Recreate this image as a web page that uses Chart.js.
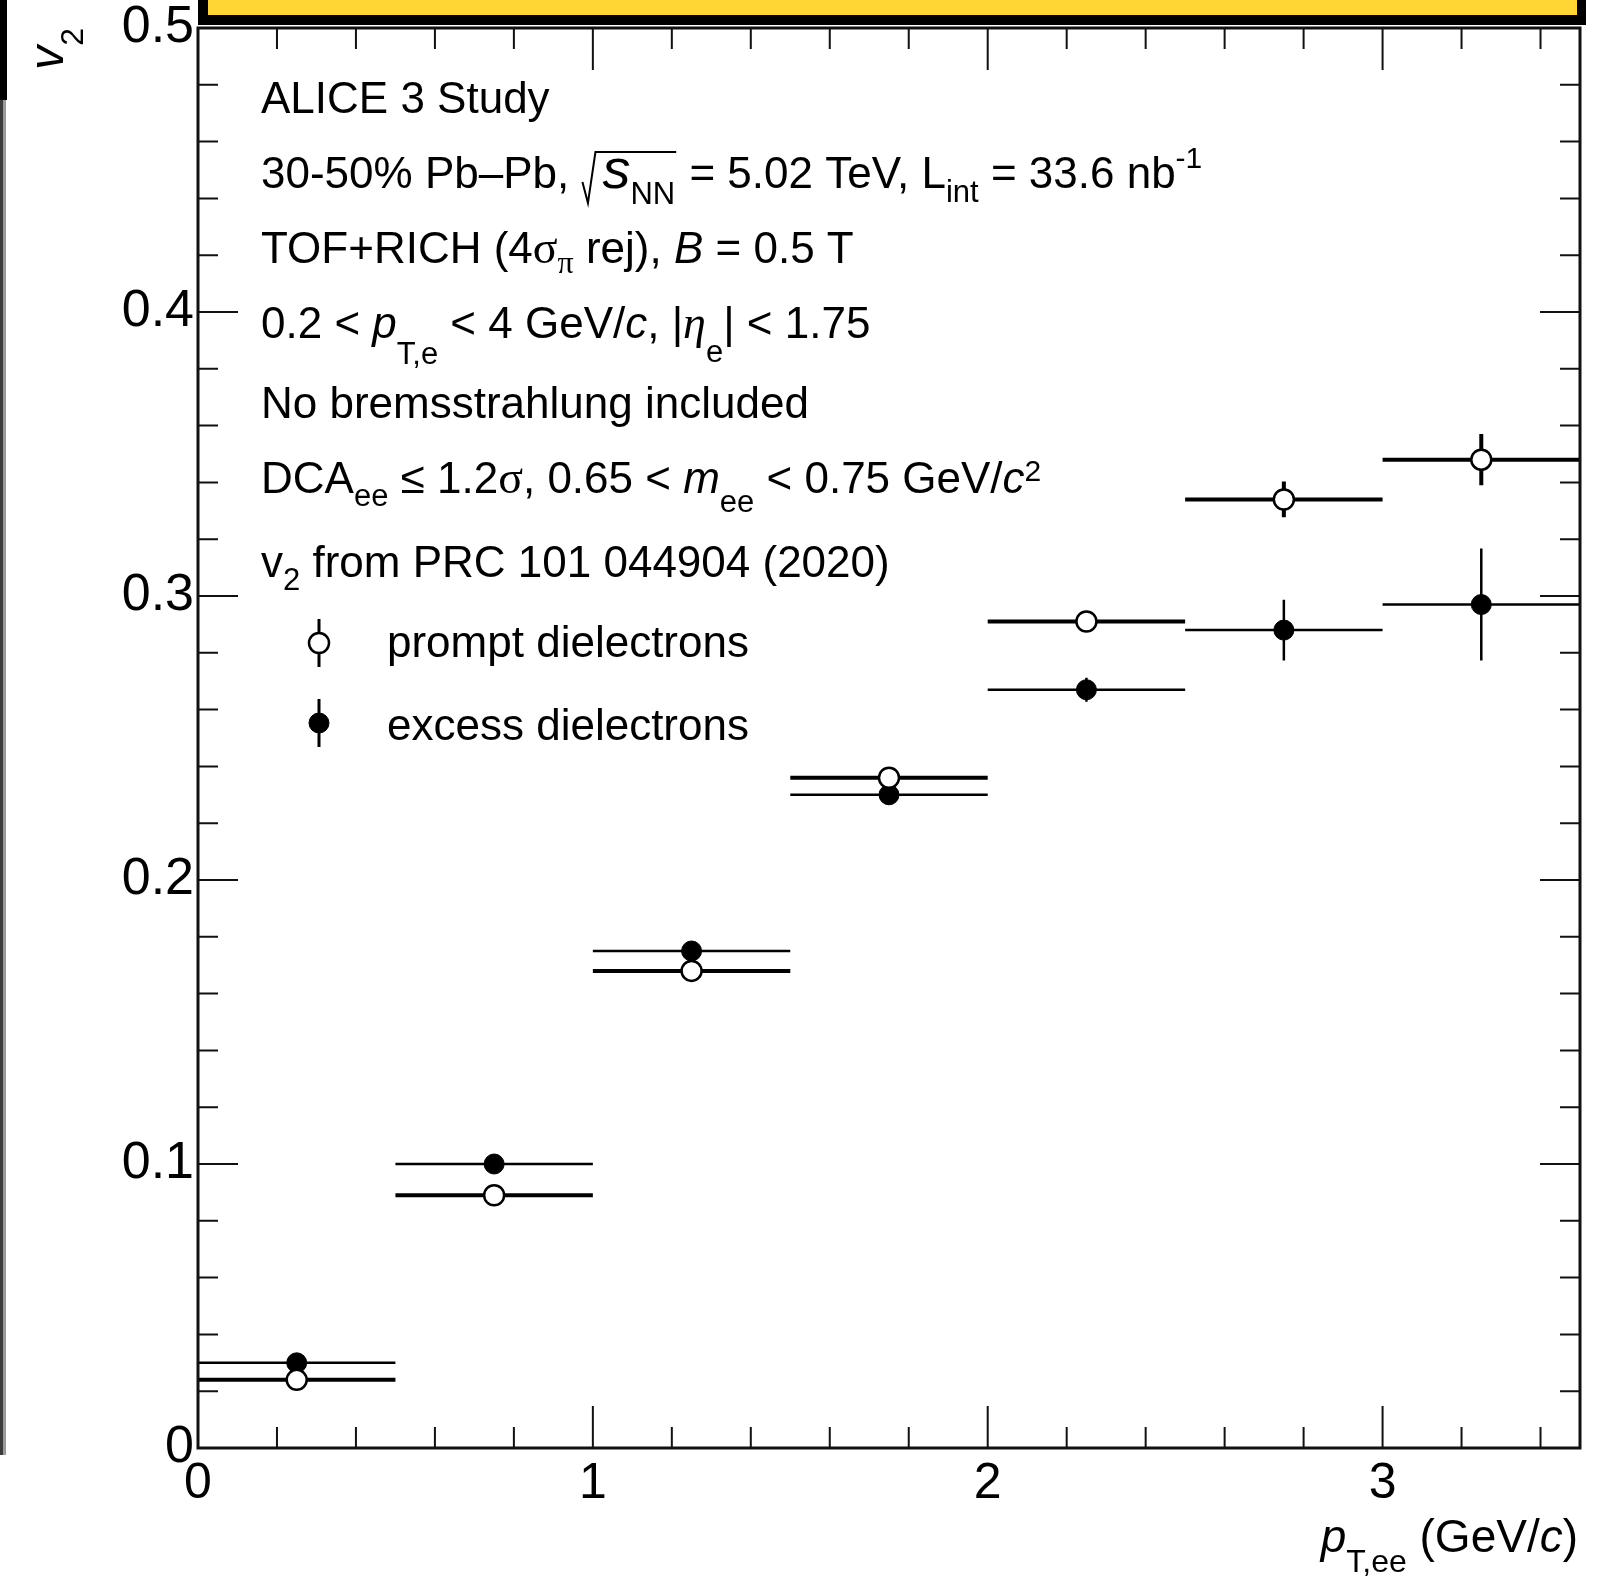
<!DOCTYPE html>
<html lang="en">
<head>
  <meta charset="UTF-8">
  <title>v2 of dielectrons vs pT,ee</title>
  <script src="https://cdn.jsdelivr.net/npm/chart.js"></script>
  <style>
    body {
      margin: 0;
      padding: 0;
      background: #fff;
    }
    #wrap {
      position: relative;
      width: 1598px;
      height: 1576px;
    }
  </style>
</head>
<body>
  <div id="wrap"><canvas id="graph"></canvas></div>

  <script>
    // pT,ee bins (GeV/c)
    const binCenters = [0.25, 0.75, 1.25, 1.75, 2.25, 2.75, 3.25];
    const binHalfWidth = [0.25, 0.25, 0.25, 0.25, 0.25, 0.25, 0.25];

    // v2 values and their errors
    const promptV2 = [0.024, 0.089, 0.168, 0.236, 0.291, 0.334, 0.348];
    const promptErr = [0.002, 0.002, 0.002, 0.002, 0.002, 0.0063, 0.009];
    const excessV2 = [0.030, 0.100, 0.175, 0.230, 0.267, 0.288, 0.297];
    const excessErr = [0.002, 0.002, 0.002, 0.002, 0.0042, 0.0107, 0.0197];

    const xTickValues = [0, 1, 2, 3];
    const xTickLabels = ['0', '1', '2', '3'];
    const yTickValues = [0, 0.1, 0.2, 0.3, 0.4, 0.5];
    const yTickLabels = ['0', '0.1', '0.2', '0.3', '0.4', '0.5'];

    // text runs: [text, kind, dy]
    const infoLines = [
      [['ALICE 3 Study']],
      [['30-50% Pb\u2013Pb, '], ['', 'rad', [['s', 'big'], ['NN', 'sub', 16]]], [' = 5.02 TeV, L'], ['int', 'sub', 14], [' = 33.6 nb'], ['-1', 'sup', -20]],
      [['TOF+RICH (4'], ['\u03c3', 'g'], ['\u03c0', 'gsub', 10], [' rej), '], ['B', 'i'], [' = 0.5 T']],
      [['0.2 < '], ['p', 'i'], ['T,e', 'sub', 26], [' < 4 GeV/'], ['c', 'i'], [', |'], ['\u03b7', 'gi'], ['e', 'sub', 24], ['| < 1.75']],
      [['No bremsstrahlung included']],
      [['DCA'], ['ee', 'sub', 13], [' \u2264 1.2'], ['\u03c3', 'g'], [', 0.65 < '], ['m', 'i'], ['ee', 'sub', 19], [' < 0.75 GeV/'], ['c', 'i'], ['2', 'sup', -12]],
      [['v'], ['2', 'sub', 13], [' from PRC 101 044904 (2020)']]
    ];
    const xTitle = [['p', 'ai'], ['T,ee', 'asub', 20], [' (GeV/', 'a'], ['c', 'ai'], [')', 'a']];
    const yTitle = [['v', 'vt'], ['2', 'asub', 20]];

    const SANS = '"Liberation Sans", Arial, Helvetica, sans-serif';
    const SERIF = '"Liberation Serif", "Times New Roman", serif';
    const FS = 44;

    const KINDS = {
      n:    { font: FS + 'px ' + SANS, dy: 0 },
      i:    { font: 'italic ' + FS + 'px ' + SANS, dy: 0 },
      a:    { font: '46px ' + SANS, dy: 0 },
      ai:   { font: 'italic 46px ' + SANS, dy: 0 },
      asub: { font: '32px ' + SANS, dy: 15 },
      vt:   { font: 'italic 48px ' + SANS, dy: 0 },
      big:  { font: 'italic 56px ' + SANS, dy: 0 },
      g:    { font: '46px ' + SERIF, dy: 0 },
      gi:   { font: 'italic 46px ' + SERIF, dy: 0 },
      sub:  { font: '31px ' + SANS, dy: 15 },
      gsub: { font: '32px ' + SERIF, dy: 10 },
      sup:  { font: '30px ' + SANS, dy: -18 }
    };

    function segWidth(ctx, seg) {
      const kind = seg[1] || 'n';
      if (kind === 'rad') return 21 + runWidth(ctx, seg[2]) + 2;
      ctx.font = KINDS[kind].font;
      return ctx.measureText(seg[0]).width;
    }

    function runWidth(ctx, segs) {
      return segs.reduce((w, s) => w + segWidth(ctx, s), 0);
    }

    function drawRun(ctx, x, y, segs) {
      for (const seg of segs) {
        const kind = seg[1] || 'n';
        if (kind === 'rad') {
          const w = runWidth(ctx, seg[2]);
          ctx.save();
          ctx.lineWidth = 2;
          ctx.strokeStyle = '#000';
          ctx.beginPath();
          ctx.moveTo(x + 1, y - 6);
          ctx.lineTo(x + 6.5, y + 15);
          ctx.lineTo(x + 14, y - 36);
          ctx.lineTo(x + 22 + w, y - 36);
          ctx.stroke();
          ctx.restore();
          drawRun(ctx, x + 21, y, seg[2]);
          x += 21 + w + 2;
          continue;
        }
        const k = KINDS[kind];
        ctx.font = k.font;
        ctx.fillText(seg[0], x, y + (seg[2] !== undefined ? seg[2] : k.dy));
        x += ctx.measureText(seg[0]).width;
      }
      return x;
    }

    // horizontal and vertical error bars, drawn under each dataset's markers
    const errorBars = {
      id: 'errorBars',
      beforeDatasetDraw(chart, args) {
        const ds = chart.data.datasets[args.index];
        const xs = chart.scales.x, ys = chart.scales.y;
        const ctx = chart.ctx;
        ctx.save();
        ctx.strokeStyle = '#000';
        ctx.lineWidth = ds.errWidth;
        ctx.beginPath();
        ds.data.forEach((p, i) => {
          const px = xs.getPixelForValue(p.x);
          const py = ys.getPixelForValue(p.y);
          ctx.moveTo(xs.getPixelForValue(p.x - ds.errX[i]), py);
          ctx.lineTo(xs.getPixelForValue(p.x + ds.errX[i]), py);
          ctx.moveTo(px, ys.getPixelForValue(p.y - ds.errY[i]));
          ctx.lineTo(px, ys.getPixelForValue(p.y + ds.errY[i]));
        });
        ctx.stroke();
        ctx.restore();
      }
    };

    // ROOT style frame with inward ticks on all four sides
    const rootFrame = {
      id: 'rootFrame',
      afterDatasetsDraw(chart) {
        const { ctx, chartArea: a, scales: { x, y } } = chart;
        ctx.save();
        ctx.strokeStyle = '#111';
        ctx.lineWidth = 2;
        ctx.beginPath();
        const yStep = (yTickValues[1] - yTickValues[0]) / 5;
        for (let k = 0; y.min + k * yStep <= y.max + 1e-9; k++) {
          const py = y.getPixelForValue(y.min + k * yStep);
          const len = k % 5 === 0 ? 40 : 20;
          ctx.moveTo(a.left, py); ctx.lineTo(a.left + len, py);
          ctx.moveTo(a.right, py); ctx.lineTo(a.right - len, py);
        }
        const xStep = (xTickValues[1] - xTickValues[0]) / 5;
        for (let k = 0; x.min + k * xStep <= x.max + 1e-9; k++) {
          const px = x.getPixelForValue(x.min + k * xStep);
          const len = k % 5 === 0 ? 42 : 21;
          ctx.moveTo(px, a.bottom); ctx.lineTo(px, a.bottom - len);
          ctx.moveTo(px, a.top); ctx.lineTo(px, a.top + len);
        }
        ctx.stroke();
        ctx.lineWidth = 3;
        ctx.strokeRect(a.left, a.top, a.right - a.left, a.bottom - a.top);
        ctx.restore();
      }
    };

    // text block, legend, axis titles and the page edges
    const annotations = {
      id: 'annotations',
      afterDraw(chart) {
        const { ctx, chartArea: a } = chart;
        ctx.save();
        ctx.fillStyle = '#000';
        ctx.textAlign = 'left';
        ctx.textBaseline = 'alphabetic';

        const baselines = [113, 188, 263, 338, 418, 493, 577];
        infoLines.forEach((line, i) => drawRun(ctx, 261, baselines[i], line));

        // legend: vertical error bar plus marker
        const legendY = [643, 723];
        const textY = [657, 740];
        chart.data.datasets.forEach((ds, i) => {
          ctx.strokeStyle = '#000';
          ctx.lineWidth = 3;
          ctx.beginPath();
          ctx.moveTo(319, legendY[i] - 24);
          ctx.lineTo(319, legendY[i] + 24);
          ctx.stroke();
          ctx.beginPath();
          ctx.arc(319, legendY[i], 10, 0, Math.PI * 2);
          ctx.fillStyle = ds.pointBackgroundColor;
          ctx.fill();
          ctx.lineWidth = ds.pointBorderWidth;
          ctx.stroke();
          ctx.fillStyle = '#000';
          drawRun(ctx, 387, textY[i], [[ds.label]]);
        });

        // x axis title, right aligned to the frame
        const xw = runWidth(ctx, xTitle);
        drawRun(ctx, a.right - 2 - xw, 1552, xTitle);

        // y axis title, rotated, ending at the top of the frame
        const yw = runWidth(ctx, yTitle);
        ctx.save();
        ctx.translate(63, a.top + yw);
        ctx.rotate(-Math.PI / 2);
        drawRun(ctx, 0, 0, yTitle);
        ctx.restore();

        // banner cut by the top edge
        ctx.fillStyle = '#000';
        ctx.fillRect(198, 0, 1388, 25);
        ctx.fillStyle = '#ffd633';
        ctx.fillRect(208, 0, 1369, 15);

        // neighbouring panel border at the left edge
        ctx.fillStyle = '#000';
        ctx.fillRect(0, 0, 7, 100);
        ctx.fillStyle = '#3c3c3c';
        ctx.fillRect(0, 100, 3, 1355);
        ctx.fillStyle = '#9a9a9a';
        ctx.fillRect(3, 100, 3, 1355);
        ctx.restore();
      }
    };

    Chart.defaults.font.family = SANS;
    Chart.defaults.color = '#000';

    const ctx = document.getElementById('graph').getContext('2d');
    const chart = new Chart(ctx, {
      type: 'scatter',
      data: {
        datasets: [
          {
            label: 'prompt dielectrons',
            data: binCenters.map((x, i) => ({ x: x, y: promptV2[i] })),
            errX: binHalfWidth,
            errY: promptErr,
            errWidth: 4,
            pointRadius: 10,
            pointBackgroundColor: '#fff',
            pointBorderColor: '#000',
            pointBorderWidth: 2.5,
            showLine: false
          },
          {
            label: 'excess dielectrons',
            data: binCenters.map((x, i) => ({ x: x, y: excessV2[i] })),
            errX: binHalfWidth,
            errY: excessErr,
            errWidth: 2.5,
            pointRadius: 10,
            pointBackgroundColor: '#000',
            pointBorderColor: '#000',
            pointBorderWidth: 1,
            showLine: false
          }
        ]
      },
      options: {
        responsive: true,
        maintainAspectRatio: false,
        animation: false,
        events: [],
        layout: { padding: { top: 28, right: 18, left: 0, bottom: 0 } },
        plugins: {
          legend: { display: false },
          tooltip: { enabled: false }
        },
        scales: {
          x: {
            type: 'linear',
            min: 0,
            max: 3.5,
            grid: { display: false, drawTicks: false },
            border: { display: false },
            afterBuildTicks: s => { s.ticks = xTickValues.map(v => ({ value: v })); },
            afterFit: s => { s.height = 128; s.paddingLeft = 0; s.paddingRight = 0; },
            ticks: {
              autoSkip: false,
              maxRotation: 0,
              padding: 6,
              font: { size: 50 },
              color: '#000',
              callback: (v, i) => xTickLabels[i]
            }
          },
          y: {
            type: 'linear',
            min: 0,
            max: 0.5,
            grid: { display: false, drawTicks: false },
            border: { display: false },
            afterBuildTicks: s => { s.ticks = yTickValues.map(v => ({ value: v })); },
            afterFit: s => { s.width = 198; s.paddingTop = 0; s.paddingBottom = 0; },
            ticks: {
              autoSkip: false,
              padding: 4,
              font: { size: 52 },
              color: '#000',
              callback: (v, i) => yTickLabels[i]
            }
          }
        }
      },
      plugins: [errorBars, rootFrame, annotations]
    });
  </script>
</body>
</html>
